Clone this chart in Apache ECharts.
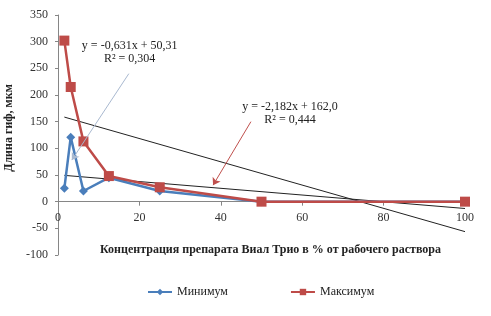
<!DOCTYPE html>
<html>
<head>
<meta charset="utf-8">
<script src="https://cdn.jsdelivr.net/npm/echarts@6/dist/echarts.min.js"></script>
<style>
  html, body { margin: 0; padding: 0; background: #fff; }
  #main { width: 491px; height: 316px; }
</style>
</head>
<body>
<div id="main"></div>
<script>
var chart = echarts.init(document.getElementById('main'));

// концентрация, % от рабочего раствора
var conc = [1.56, 3.125, 6.25, 12.5, 25, 50, 100];
var minValues = [25, 121, 20, 45, 20, 0, 0];
var maxValues = [302, 215, 113, 48, 27, 0, 0];
// линии тренда: концы
var minTrend = [[1.56, 49.3], [100, -12.8]];
var maxTrend = [[1.56, 158.6], [100, -56.2]];
var eqMin = 'y = -0,631x + 50,31\nR² = 0,304';
var eqMax = 'y = -2,182x + 162,0\nR² = 0,444';
var yTicks = [-100, 350, 50];
var xTicks = [0, 100, 20];

var blue = '#4a7ebb';
var red = '#be4b48';
var axisColor = '#868686';
var serif = 'Liberation Serif';

// высота сетки 240px, ноль оси Y на 350/450 от верха
var gridTop = 15, gridBottom = 61, gridH = 316 - gridTop - gridBottom;
var zeroOffset = gridH * (0 - yTicks[0]) / (yTicks[1] - yTicks[0]);

function pairs(xs, ys) {
    return xs.map(function (x, i) { return [x, ys[i]]; });
}

var option = {
    backgroundColor: '#fff',
    animation: false,
    textStyle: { fontFamily: serif },
    grid: {
        left: 58, right: 26, top: gridTop, bottom: gridBottom,
        containLabel: false, outerBoundsMode: 'none'
    },
    legend: {
        data: ['Минимум', 'Максимум'],
        bottom: 13,
        left: 142,
        itemGap: 62,
        itemWidth: 24,
        itemHeight: 8,
        textStyle: { fontFamily: serif, fontSize: 12, color: '#222' }
    },
    xAxis: {
        type: 'value',
        min: xTicks[0], max: xTicks[1], interval: xTicks[2],
        offset: -zeroOffset,
        axisLine: { onZero: false, lineStyle: { color: axisColor } },
        axisTick: { show: true, length: 4, lineStyle: { color: axisColor } },
        splitLine: { show: false },
        axisLabel: { fontFamily: serif, fontSize: 12, color: '#333', margin: 10 },
        name: 'Концентрация препарата Виал Трио в % от рабочего раствора',
        nameLocation: 'middle',
        nameGap: 42,
        nameTextStyle: {
            fontFamily: serif, fontSize: 12, fontWeight: 'bold', color: '#222',
            padding: [0, 0, 0, 18]
        }
    },
    yAxis: {
        type: 'value',
        min: yTicks[0], max: yTicks[1], interval: yTicks[2],
        axisLine: { show: true, onZero: false, lineStyle: { color: axisColor } },
        axisTick: { show: true, length: 3, lineStyle: { color: axisColor } },
        splitLine: { show: false },
        axisLabel: { fontFamily: serif, fontSize: 12, color: '#333', margin: 10 },
        name: 'Длина гиф, мкм',
        nameLocation: 'middle',
        nameGap: 41,
        nameTextStyle: {
            fontFamily: serif, fontSize: 12, fontWeight: 'bold', color: '#222',
            padding: [0, 0, 0, 14]
        }
    },
    series: [
        {
            name: 'trendMin',
            type: 'line',
            data: minTrend,
            symbol: 'none',
            lineStyle: { color: '#222', width: 1 },
            z: 1,
            markLine: {
                silent: true,
                symbol: ['none', 'arrow'],
                symbolSize: 7,
                lineStyle: { color: '#a9b9d0', width: 1, type: 'solid' },
                label: { show: false },
                data: [[{ coord: [17.4, 240] }, { coord: [3.4, 78] }]]
            },
            markPoint: {
                silent: true,
                symbol: 'circle',
                symbolSize: 0,
                label: {
                    show: true, formatter: eqMin, align: 'center', lineHeight: 13,
                    fontFamily: serif, fontSize: 12, color: '#222'
                },
                data: [{ coord: [17.6, 280] }]
            }
        },
        {
            name: 'trendMax',
            type: 'line',
            data: maxTrend,
            symbol: 'none',
            lineStyle: { color: '#222', width: 1 },
            z: 1,
            markLine: {
                silent: true,
                symbol: ['none', 'arrow'],
                symbolSize: 7,
                lineStyle: { color: '#c0504d', width: 1, type: 'solid' },
                label: { show: false },
                data: [[{ coord: [47.4, 150] }, { coord: [38.1, 31] }]]
            },
            markPoint: {
                silent: true,
                symbol: 'circle',
                symbolSize: 0,
                label: {
                    show: true, formatter: eqMax, align: 'center', lineHeight: 13,
                    fontFamily: serif, fontSize: 12, color: '#222'
                },
                data: [{ coord: [57, 166] }]
            }
        },
        {
            name: 'Минимум',
            type: 'line',
            data: pairs(conc, minValues),
            symbol: 'diamond',
            symbolSize: 9,
            color: blue,
            itemStyle: { color: blue },
            lineStyle: { color: blue, width: 2.5 },
            z: 3
        },
        {
            name: 'Максимум',
            type: 'line',
            data: pairs(conc, maxValues),
            symbol: 'rect',
            symbolSize: 10,
            color: red,
            itemStyle: { color: red },
            lineStyle: { color: red, width: 2.5 },
            z: 4
        }
    ]
};

chart.setOption(option);
</script>
</body>
</html>
